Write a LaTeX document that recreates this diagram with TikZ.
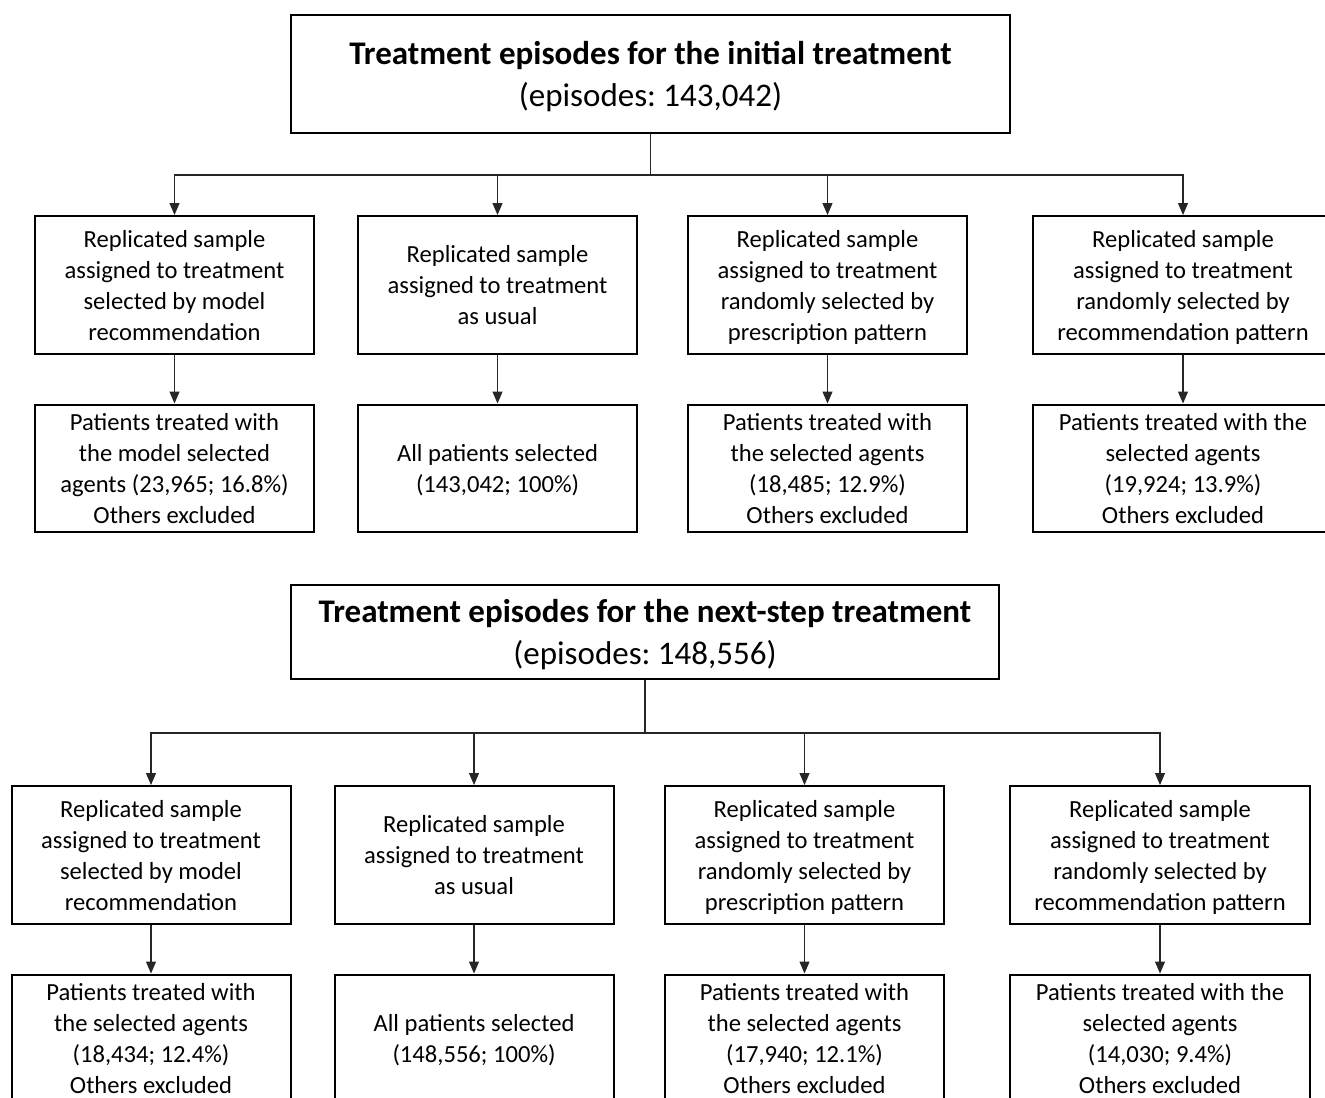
\documentclass[tikz,border=0pt]{standalone}
\usepackage{fontspec}
\setmainfont{Carlito}
\usetikzlibrary{arrows.meta}
\frenchspacing

\begin{document}
\begin{tikzpicture}[
		% one unit is one pixel of the page
		x=0.5pt, y=-0.5pt,
		headbox/.style={draw, line width=1pt, align=center, inner sep=0pt,
			font=\fontsize{16.5}{21}\selectfont, text depth=-1pt},
		armbox/.style={draw, line width=1pt, align=center, inner sep=0pt,
			minimum width=139.5pt, minimum height=69pt,
			font=\fontsize{12.3}{15.5}\selectfont, text depth=-2pt},
		keptbox/.style={armbox, minimum height=63.5pt, text depth=-3pt},
		widebox/.style={minimum width=150pt},
		link/.style={draw=black!85, line width=0.55pt},
		arrowlink/.style={link, -{Triangle[length=6pt,width=5pt]}},
		]
		\useasboundingbox (0,0) rectangle (1325,1097);
		\clip (0,0) rectangle (1325,1097);

		% initial treatment
		\node[headbox, minimum width=359.5pt, minimum height=59pt] (initial) at (650.5,74)
			{\textbf{Treatment episodes for the initial treatment}\\(episodes: 143,042)};
		\coordinate (initialsplit) at (650.5,175);

		\node[armbox] (initmodel) at (174.5,285) {Replicated sample\\assigned to treatment\\selected by model\\recommendation};
		\node[armbox] (initusual) at (497.5,285) {Replicated sample\\assigned to treatment\\as usual};
		\node[armbox] (initpresc) at (827.5,285) {Replicated sample\\assigned to treatment\\randomly selected by\\prescription pattern};
		\node[armbox, widebox] (initrecom) at (1183,285) {Replicated sample\\assigned to treatment\\randomly selected by\\recommendation pattern};

		\node[keptbox] (initmodelkept) at (174.5,468) {Patients treated with\\the model selected\\agents (23,965; 16.8\%)\\Others excluded};
		\node[keptbox] (initusualkept) at (497.5,468) {All patients selected\\(143,042; 100\%)};
		\node[keptbox] (initpresckept) at (827.5,468) {Patients treated with\\the selected agents\\(18,485; 12.9\%)\\Others excluded};
		\node[keptbox, widebox] (initrecomkept) at (1183,468) {Patients treated with the\\selected agents\\(19,924; 13.9\%)\\Others excluded};

		\draw[link] (initial.south) -- (initialsplit);
		\draw[arrowlink] (initialsplit) -| (initmodel.north);
		\draw[arrowlink] (initialsplit) -| (initusual.north);
		\draw[arrowlink] (initialsplit) -| (initpresc.north);
		\draw[arrowlink] (initialsplit) -| (initrecom.north);
		\draw[arrowlink] (initmodel) -- (initmodelkept);
		\draw[arrowlink] (initusual) -- (initusualkept);
		\draw[arrowlink] (initpresc) -- (initpresckept);
		\draw[arrowlink] (initrecom) -- (initrecomkept);

		% next-step treatment
		\node[headbox, minimum width=354pt, minimum height=47pt] (nextstep) at (645,632)
			{\textbf{Treatment episodes for the next-step treatment}\\(episodes: 148,556)};
		\coordinate (nextsplit) at (645,733);

		\node[armbox] (nextmodel) at (151,855) {Replicated sample\\assigned to treatment\\selected by model\\recommendation};
		\node[armbox] (nextusual) at (474,855) {Replicated sample\\assigned to treatment\\as usual};
		\node[armbox] (nextpresc) at (804.5,855) {Replicated sample\\assigned to treatment\\randomly selected by\\prescription pattern};
		\node[armbox, widebox] (nextrecom) at (1160,855) {Replicated sample\\assigned to treatment\\randomly selected by\\recommendation pattern};

		\node[keptbox] (nextmodelkept) at (151,1038) {Patients treated with\\the selected agents\\(18,434; 12.4\%)\\Others excluded};
		\node[keptbox] (nextusualkept) at (474,1038) {All patients selected\\(148,556; 100\%)};
		\node[keptbox] (nextpresckept) at (804.5,1038) {Patients treated with\\the selected agents\\(17,940; 12.1\%)\\Others excluded};
		\node[keptbox, widebox] (nextrecomkept) at (1160,1038) {Patients treated with the\\selected agents\\(14,030; 9.4\%)\\Others excluded};

		\draw[link] (nextstep.south) -- (nextsplit);
		\draw[arrowlink] (nextsplit) -| (nextmodel.north);
		\draw[arrowlink] (nextsplit) -| (nextusual.north);
		\draw[arrowlink] (nextsplit) -| (nextpresc.north);
		\draw[arrowlink] (nextsplit) -| (nextrecom.north);
		\draw[arrowlink] (nextmodel) -- (nextmodelkept);
		\draw[arrowlink] (nextusual) -- (nextusualkept);
		\draw[arrowlink] (nextpresc) -- (nextpresckept);
		\draw[arrowlink] (nextrecom) -- (nextrecomkept);
	\end{tikzpicture}
\end{document}
